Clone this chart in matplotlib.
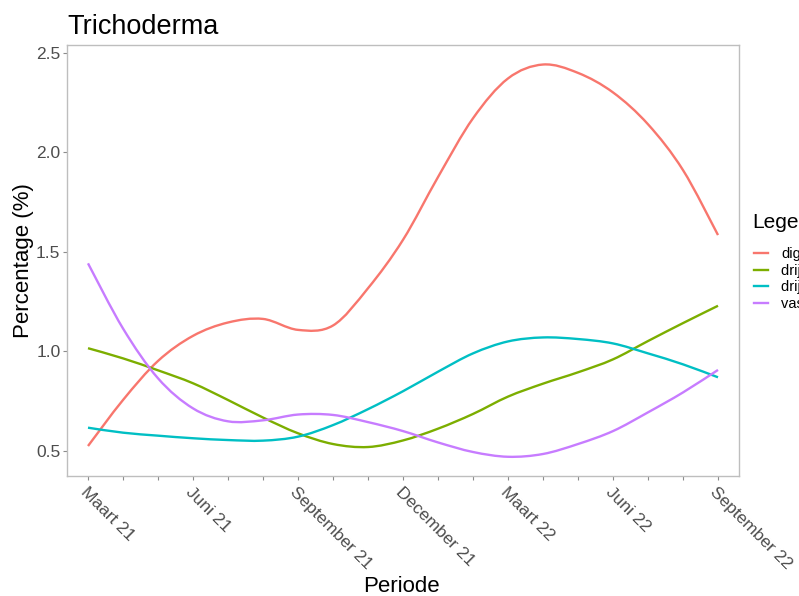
import matplotlib
matplotlib.use("Agg")
import matplotlib.pyplot as plt
from matplotlib.path import Path
from matplotlib.patches import PathPatch
from matplotlib.lines import Line2D
import numpy as np

plt.rcParams['font.family'] = ['Liberation Sans', 'DejaVu Sans']

# ---- data (monthly, Maart 21 .. September 22) ----
month_idx = list(range(19))
tick_pos = [0, 3, 6, 9, 12, 15, 18]
tick_labels = ["Maart 21", "Juni 21", "September 21", "December 21",
               "Maart 22", "Juni 22", "September 22"]

series_names = ["digestaat", "drijfmest rundvee", "drijfmest varkens", "vaste mest"]
colors = ["#F8766D", "#7CAE00", "#00BFC4", "#C77CFF"]

digestaat = [0.525, 0.756, 0.952, 1.078, 1.145, 1.163, 1.108, 1.13, 1.317, 1.56,
             1.875, 2.17, 2.37, 2.44, 2.398, 2.30, 2.14, 1.91, 1.584]
drijf_rund = [1.016, 0.965, 0.905, 0.84, 0.756, 0.668, 0.589, 0.535, 0.52, 0.553,
              0.612, 0.686, 0.773, 0.838, 0.895, 0.96, 1.052, 1.142, 1.229]
drijf_varken = [0.617, 0.592, 0.577, 0.564, 0.555, 0.552, 0.572, 0.63, 0.71, 0.80,
                0.898, 0.99, 1.05, 1.07, 1.062, 1.04, 0.99, 0.935, 0.87]
vaste_mest = [1.442, 1.115, 0.865, 0.714, 0.649, 0.654, 0.683, 0.681, 0.645, 0.60,
              0.543, 0.495, 0.471, 0.485, 0.535, 0.60, 0.694, 0.794, 0.907]
all_series = [digestaat, drijf_rund, drijf_varken, vaste_mest]


def smooth_path(xs, ys):
    """Catmull-Rom curve through the points, expressed as cubic Bezier segments."""
    pts = np.column_stack([xs, ys]).astype(float)
    ext = np.vstack([pts[0], pts, pts[-1]])
    verts = [tuple(pts[0])]
    codes = [Path.MOVETO]
    for i in range(1, len(ext) - 2):
        p0, p1, p2, p3 = ext[i - 1], ext[i], ext[i + 1], ext[i + 2]
        c1 = p1 + (p2 - p0) / 6.0
        c2 = p2 - (p3 - p1) / 6.0
        verts += [tuple(c1), tuple(c2), tuple(p2)]
        codes += [Path.CURVE4] * 3
    return Path(verts, codes)


W, H = 799, 596
fig = plt.figure(figsize=(W / 100, H / 100), dpi=100)
ax = fig.add_axes([67 / W, (H - 476) / H, 672 / W, 431 / H])

for ys, c in zip(all_series, colors):
    ax.add_patch(PathPatch(smooth_path(month_idx, ys), fill=False,
                           edgecolor=c, lw=1.7, capstyle='butt'))

ax.set_xlim(-0.6, 18.6)
ax.set_ylim(0.3745, 2.538)

ax.set_xticks(tick_pos)
ax.set_xticklabels(tick_labels, rotation=-45, ha='left', va='top',
                   rotation_mode='anchor')
ax.set_xticks(month_idx, minor=True)
ax.set_yticks([0.5, 1.0, 1.5, 2.0, 2.5])
ax.set_yticklabels(["0.5", "1.0", "1.5", "2.0", "2.5"])

gray_tick = "#8C8C8C"
ax.tick_params(axis='both', which='both', length=3.2, width=0.8, color=gray_tick,
               labelcolor="#4D4D4D", labelsize=12.5)
ax.tick_params(axis='x', which='major', pad=3)
ax.tick_params(axis='y', which='major', pad=1.5)
for sp in ax.spines.values():
    sp.set_color("#BEBEBE")
    sp.set_linewidth(1.0)

ax.set_title("Trichoderma", loc='left', fontsize=19.5, pad=8, color='black')
ax.set_ylabel("Percentage (%)", fontsize=16, va='center', color='black')
ax.yaxis.set_label_coords((23.5 - 67) / 672, 0.5)
ax.set_xlabel("Periode", fontsize=16, va='center', color='black')
ax.xaxis.set_label_coords(0.497, (476 - 586) / 431)

# legend (partly outside the canvas, as in the reference)
fig.text(752 / W, 1 - 223 / H, "Legende", fontsize=15, ha='left', va='center',
         color='black')
handles = [Line2D([0], [0], color=c, lw=1.7) for c in colors]
leg = fig.legend(handles, series_names, loc='upper left',
                 bbox_to_anchor=(754 / W, 1 - 247 / H), frameon=False,
                 fontsize=10.5, handlelength=0.96,
                 handletextpad=0.9, labelspacing=0.18,
                 borderaxespad=0, borderpad=0)

fig.savefig("out.png", dpi=100, facecolor='white')
